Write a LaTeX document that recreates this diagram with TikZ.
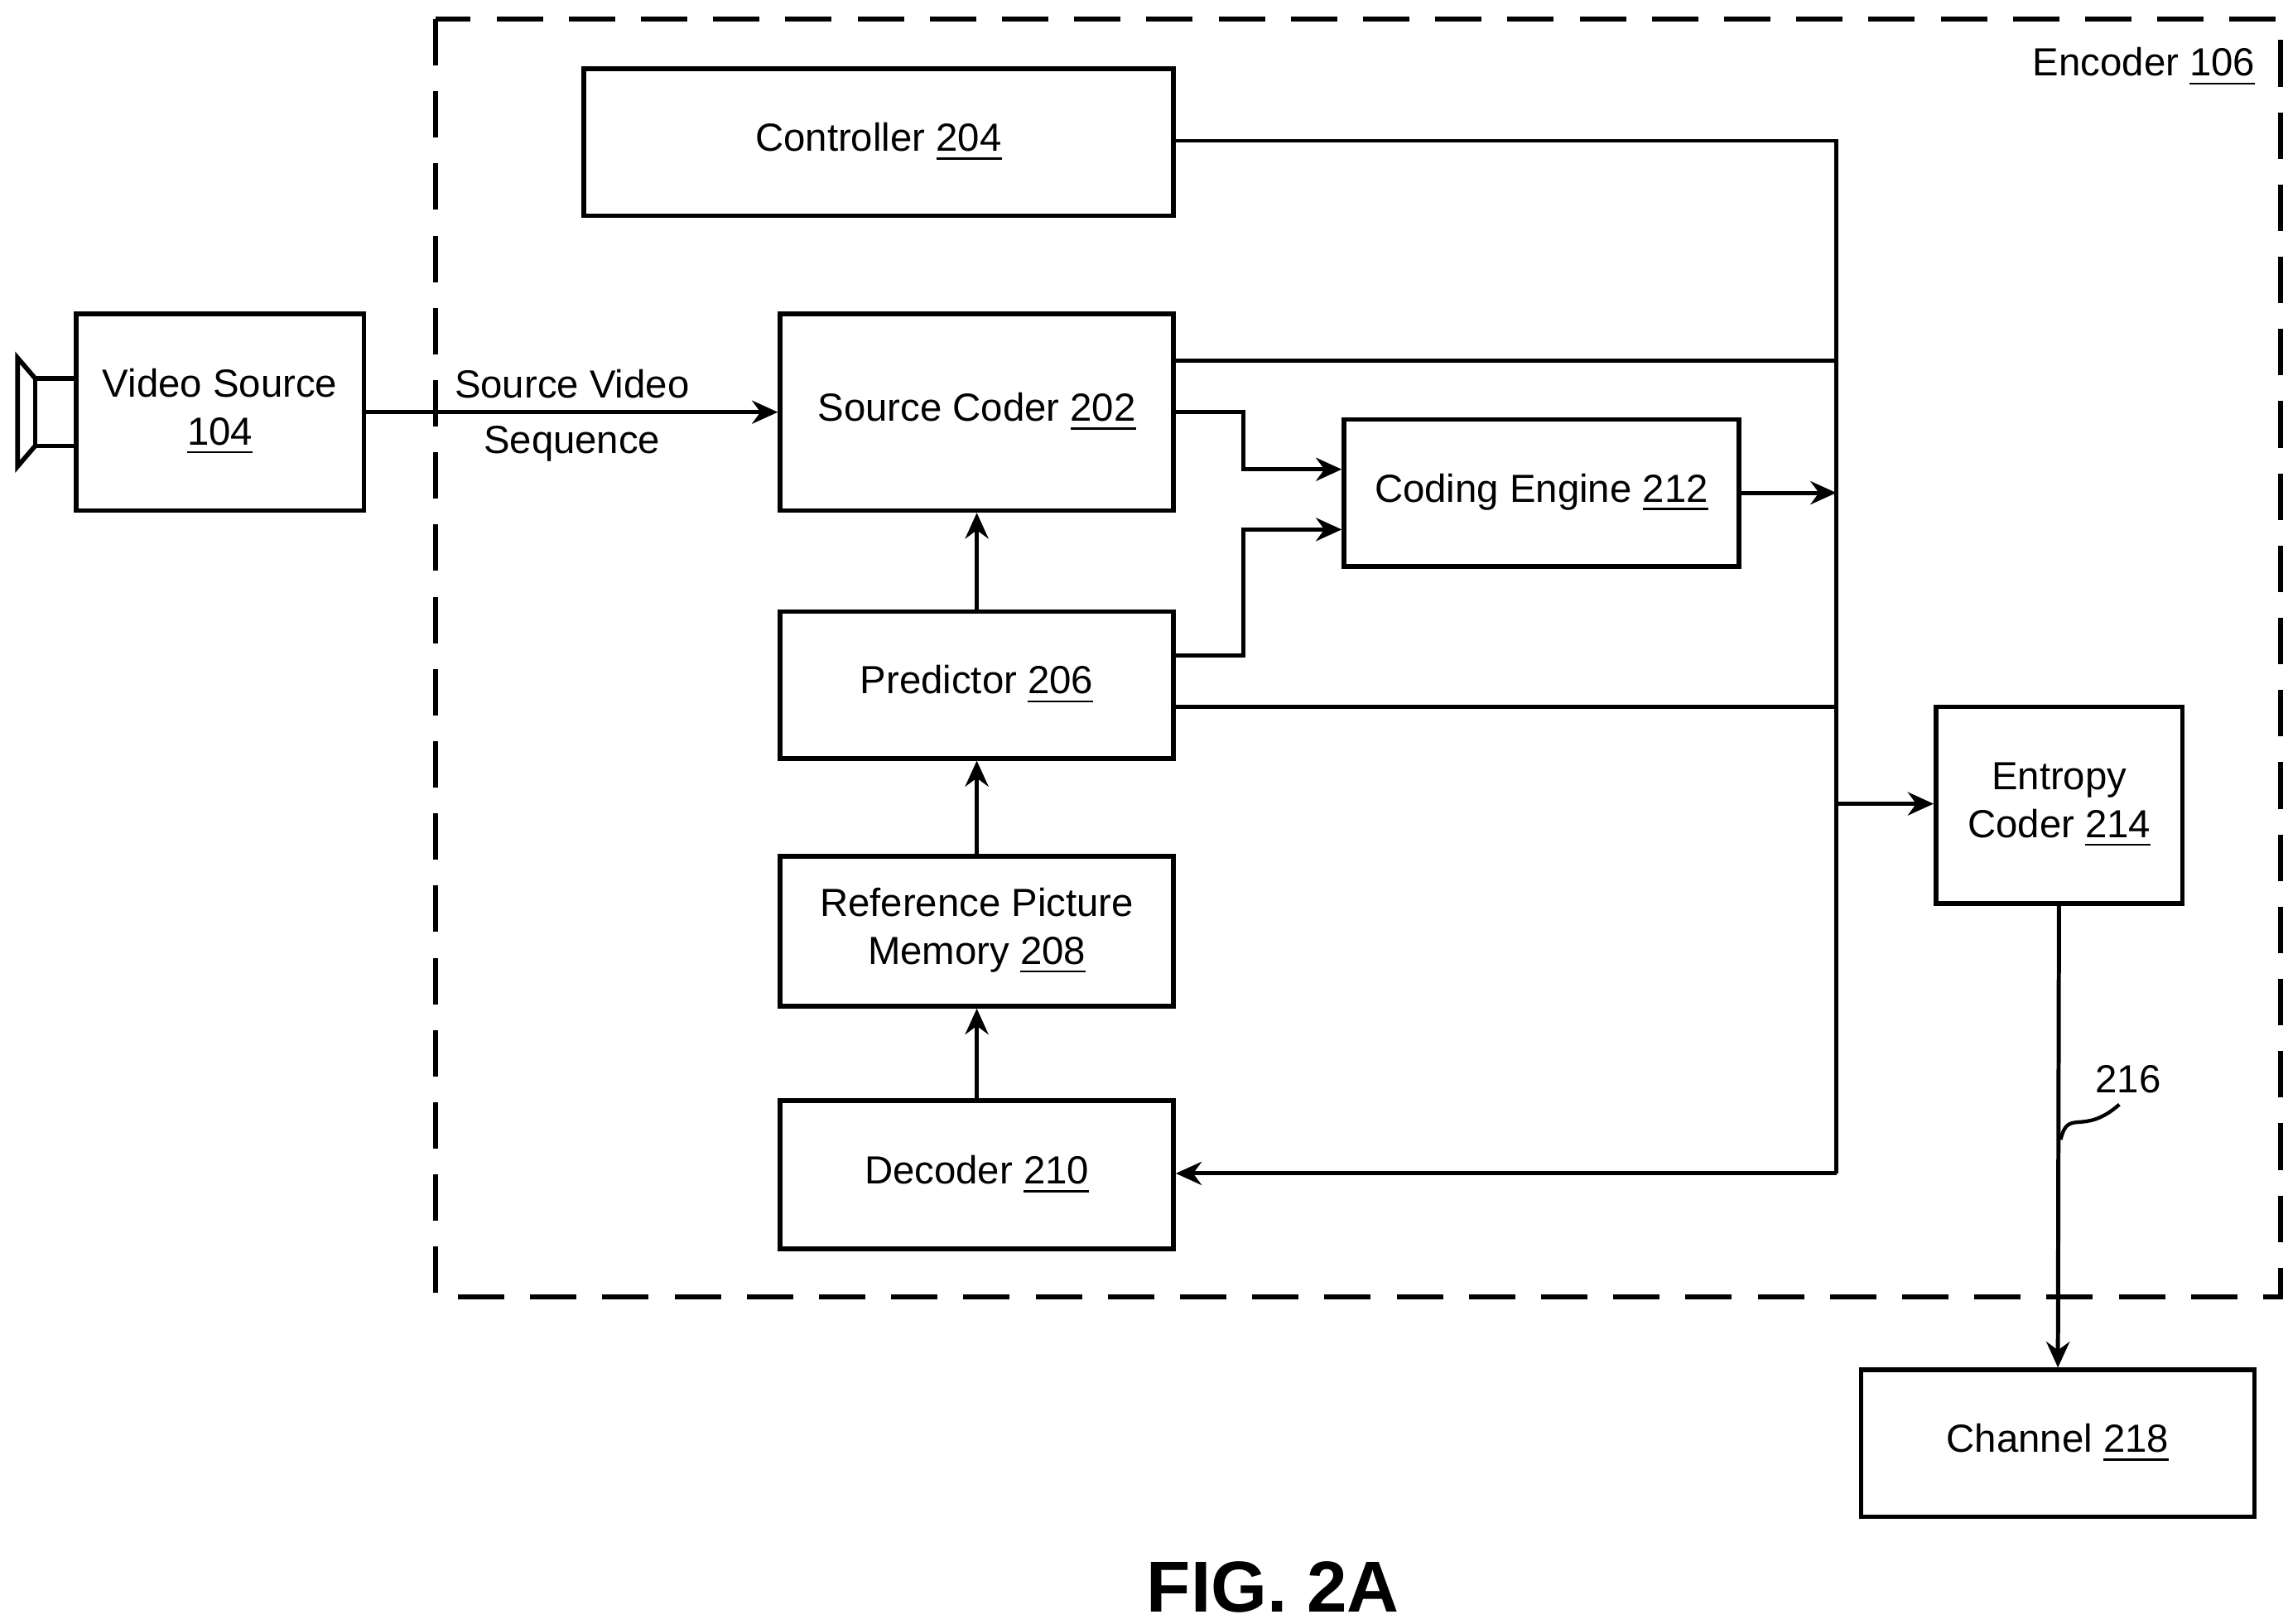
\documentclass[tikz,border=0pt]{standalone}
\usepackage{fontspec}
\setmainfont{Liberation Sans}
\usetikzlibrary{arrows.meta}

\begin{document}
\begin{tikzpicture}[x=0.01cm,y=-0.01cm,
    blk/.style={draw, line width=0.9pt, align=center, inner sep=0pt,
      font=\fontsize{7.6}{9.2}\selectfont},
    bus/.style={line width=0.8pt},
    arr/.style={line width=0.8pt, -{Stealth[length=5pt,width=4.5pt]}}]
    \useasboundingbox (0,0) rectangle (1560,1107);
    \draw[line width=1pt, dash pattern=on 9pt off 5pt] (297,13) rectangle (1555,884);
    \node[anchor=north east, font=\fontsize{7.6}{9.2}\selectfont] (enc) at (1550,20) {Encoder \underline{106}};
    \node[blk, minimum width=4.02cm, minimum height=1cm] (ctrl) at (599,97) {Controller \underline{204}};
    \node[blk, minimum width=1.96cm, minimum height=1.34cm] (vs) at (150,281) {Video Source\\\underline{104}};
    \node[blk, minimum width=2.68cm, minimum height=1.34cm] (sc) at (666,281) {Source Coder \underline{202}};
    \node[blk, minimum width=2.69cm, minimum height=1cm] (ce) at (1051,336) {Coding Engine \underline{212}};
    \node[blk, minimum width=2.68cm, minimum height=1cm] (pred) at (666,467) {Predictor \underline{206}};
    \node[blk, minimum width=2.68cm, minimum height=1.02cm] (rpm) at (666,635) {Reference Picture\\Memory \underline{208}};
    \node[blk, minimum width=2.68cm, minimum height=1.01cm] (dec) at (666,801) {Decoder \underline{210}};
    \node[blk, minimum width=1.68cm, minimum height=1.34cm] (ent) at (1404,549) {Entropy\\Coder \underline{214}};
    \node[blk, minimum width=2.68cm, minimum height=1cm] (chan) at (1403,984) {Channel \underline{218}};
    \node[font=\bfseries\fontsize{14}{16}\selectfont] (fig) at (868,1082) {FIG. 2A};
    % camera
    \draw[line width=0.9pt] (24,258) rectangle (52,304);
    \draw[line width=0.9pt] (24,258) -- (12,244) -- (12,318) -- (24,304);
    % connections
    \coordinate (bt) at (1252,96);
    \coordinate (bb) at (1252,800);
    \draw[bus] (ctrl.east |- bt) -- (bt) -- (bb);
    \draw[bus] (sc.east |- 0,246) -- (1252,246);
    \draw[bus] (pred.east |- 0,482) -- (1252,482);
    \draw[arr] (vs.east) -- node[above=-1pt, font=\fontsize{7.6}{9.2}\selectfont] {Source Video} node[below=-1pt, font=\fontsize{7.6}{9.2}\selectfont] {Sequence} (sc.west);
    \draw[arr] (sc.east |- 0,281) -- (848,281) -- (848,320) -- (ce.west |- 0,320);
    \draw[arr] (pred.east |- 0,447) -- (848,447) -- (848,361) -- (ce.west |- 0,361);
    \draw[arr] (ce.east) -- (1252,336);
    \draw[arr] (1252,548) -- (ent.west |- 0,548);
    \draw[arr] (bb) -- (dec.east |- bb);
    \draw[arr] (pred) -- (sc);
    \draw[arr] (rpm) -- (pred);
    \draw[arr] (dec) -- (rpm);
    \draw[arr] (ent) -- (chan);
    \draw[line width=0.7pt] (1405,777) .. controls (1410,755) and (1420,775) .. (1445,753);
    \node[font=\fontsize{7.6}{9.2}\selectfont] (lbl) at (1451,736) {216};
\end{tikzpicture}
\end{document}
